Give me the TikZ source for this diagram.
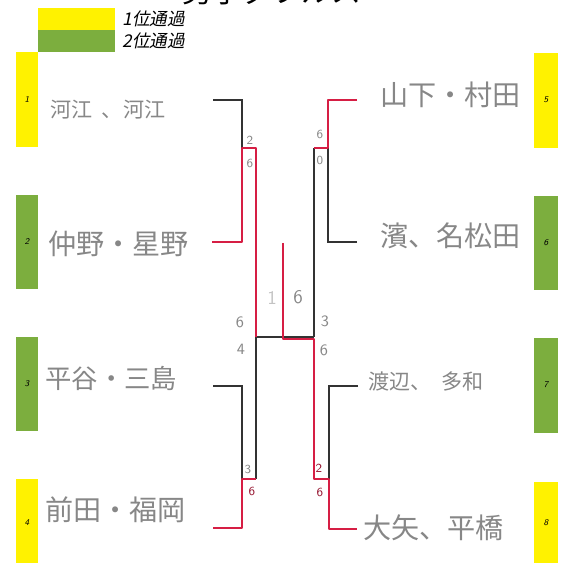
\documentclass[tikz,border=0pt]{standalone}
\usepackage{fontspec}
\newfontfamily\jpfont{Noto Sans CJK JP}
\newfontfamily\legendfont[FakeSlant=0.2]{Noto Sans CJK JP}
\definecolor{passone}{RGB}{255,242,0}
\definecolor{passtwo}{RGB}{124,174,62}
\definecolor{winred}{RGB}{214,30,68}
\definecolor{pencil}{RGB}{135,135,135}

\begin{document}
\begin{tikzpicture}[x=0.02cm,y=-0.02cm,inner sep=0pt,minimum size=0mm,
  bline/.style={black!80,line width=0.8pt},
  winline/.style={winred,line width=1.5pt,line join=round},
  pairname/.style={anchor=west,pencil,font=\jpfont\fontsize{16}{16}\selectfont},
  score/.style={pencil,font=\sffamily\fontsize{7}{7}\selectfont},
  seed/.style={font=\sffamily\itshape\fontsize{5}{5}\selectfont}]

\useasboundingbox (0,0) rectangle (563,563);
\clip (0,0) rectangle (563,563);

\node[anchor=base,font=\jpfont\fontsize{17}{17}\selectfont] (title) at (272,3) {男子ダブルス};

\fill[passone] (38,8) rectangle (115,30);
\fill[passtwo] (38,30) rectangle (115,52);
\node[anchor=west,font=\legendfont\fontsize{10}{10}\selectfont] (lgone) at (122,19) {1位通過};
\node[anchor=west,font=\legendfont\fontsize{10}{10}\selectfont] (lgtwo) at (122,41) {2位通過};

\fill[passone] (16,52) rectangle (38,147);
\fill[passtwo] (16,195) rectangle (38,289);
\fill[passtwo] (16,337) rectangle (38,431);
\fill[passone] (16,479) rectangle (38,563);
\fill[passone] (534,53) rectangle (558,148);
\fill[passtwo] (534,196) rectangle (558,290);
\fill[passtwo] (534,338) rectangle (558,433);
\fill[passone] (534,482) rectangle (558,563);

\node[seed] (sd1) at (27,100) {1};
\node[seed] (sd2) at (27,242) {2};
\node[seed] (sd3) at (27,384) {3};
\node[seed] (sd4) at (27,523) {4};
\node[seed] (sd5) at (546,100) {5};
\node[seed] (sd6) at (546,243) {6};
\node[seed] (sd7) at (546,385) {7};
\node[seed] (sd8) at (546,523) {8};

\node[pairname,font=\jpfont\fontsize{12}{12}\selectfont] (n1) at (50,110) {河江\ \ 、河江};
\node[pairname] (n2) at (48,244) {仲野・星野};
\node[pairname,font=\jpfont\fontsize{15}{15}\selectfont] (n3) at (45,378) {平谷・三島};
\node[pairname] (n4) at (45,510) {前田・福岡};
\node[pairname] (n5) at (380,95) {山下・村田};
\node[pairname] (n6) at (380,236) {濱、名松田};
\node[pairname,font=\jpfont\fontsize{12}{12}\selectfont] (n7) at (368,381) {渡辺、\ \ 多和};
\node[pairname] (n8) at (363,528) {大矢、平橋};

\coordinate (p1) at (213,100);
\coordinate (p1c) at (242,100);
\coordinate (p2) at (212,242);
\coordinate (p2c) at (242,242);
\coordinate (m1) at (242,148);
\coordinate (m1o) at (256,148);
\coordinate (p3) at (213,386);
\coordinate (p3c) at (242,386);
\coordinate (p4) at (213,528);
\coordinate (p4c) at (242,528);
\coordinate (m2) at (242,479);
\coordinate (m2o) at (256,479);
\coordinate (c1) at (256,337);

\coordinate (p5) at (357,100);
\coordinate (p5c) at (328,100);
\coordinate (p6) at (357,242);
\coordinate (p6c) at (328,242);
\coordinate (m3) at (328,148);
\coordinate (m3o) at (314,148);
\coordinate (p7) at (358,386);
\coordinate (p7c) at (329,386);
\coordinate (p8) at (357,529);
\coordinate (p8c) at (329,529);
\coordinate (m4) at (329,479);
\coordinate (m4o) at (314,479);
\coordinate (c2) at (314,337);
\coordinate (c2r) at (314,339);
\coordinate (f1) at (283,243);
\coordinate (f2) at (283,339);

\draw[bline] (p1) -- (p1c) -- (m1);
\draw[bline] (p3) -- (p3c) -- (m2);
\draw[bline] (m2o) -- (c1);
\draw[bline] (c1) -- (c2);
\draw[bline] (m3o) -- (c2);
\draw[bline] (p6) -- (p6c) -- (m3);
\draw[bline] (p7) -- (p7c) -- (m4);

\draw[winline] (p2) -- (p2c) -- (m1) -- (m1o) -- (c1);
\draw[winline] (p4) -- (p4c) -- (m2) -- (m2o);
\draw[winline] (p5) -- (p5c) -- (m3) -- (m3o);
\draw[winline] (f1) -- (f2) -- (c2r) -- (m4o) -- (m4) -- (p8c) -- (p8);

\node[score] (s12a) at (250,140) {2};
\node[score] (s12b) at (250,163) {6};
\node[score] (s34a) at (248,469) {3};
\node[score,winred!70!black] (s34b) at (252,491) {6};
\node[score,font=\sffamily\fontsize{9}{9}\selectfont] (s24a) at (240,322) {6};
\node[score,font=\sffamily\fontsize{9}{9}\selectfont] (s24b) at (241,349) {4};
\node[score] (s56a) at (320,134) {6};
\node[score] (s56b) at (320,160) {0};
\node[score,font=\sffamily\fontsize{9}{9}\selectfont] (s58a) at (325,321) {3};
\node[score,font=\sffamily\fontsize{9}{9}\selectfont] (s58b) at (324,350) {6};
\node[score,winred!70!black] (s78a) at (319,468) {2};
\node[score,winred!70!black] (s78b) at (320,492) {6};
\node[score,pencil!50,font=\sffamily\fontsize{11}{11}\selectfont] (sfa) at (272,298) {1};
\node[score,font=\sffamily\fontsize{11}{11}\selectfont] (sfb) at (298,297) {6};

\end{tikzpicture}
\end{document}
